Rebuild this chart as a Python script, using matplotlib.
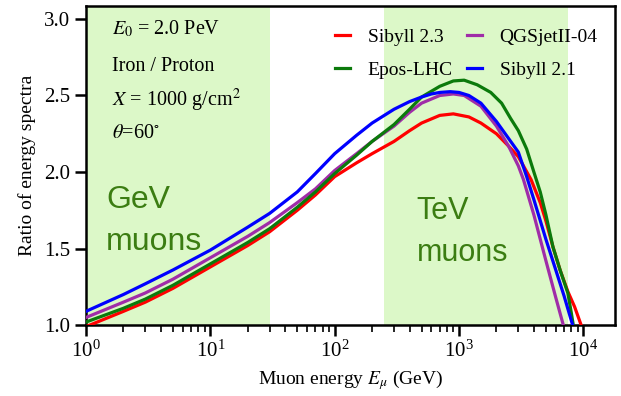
import numpy as np
import matplotlib.pyplot as plt

plt.rcParams['font.family'] = 'Liberation Serif'
plt.rcParams['mathtext.fontset'] = 'stix'

# Sibyll 2.3
e_s23 = [1, 2, 3, 5, 10, 20, 30, 50, 70, 100, 150, 200, 300, 400, 500, 700, 900, 1200, 1500, 2000, 2500,
         3000, 3800, 4500, 5000, 5700, 6500, 7500, 8500, 9600]
r_s23 = [0.99, 1.09, 1.15, 1.24, 1.38, 1.52, 1.61, 1.75, 1.85, 1.97, 2.06, 2.12, 2.20, 2.27, 2.32, 2.37, 2.38, 2.36, 2.32, 2.25, 2.17,
         2.10, 1.95, 1.80, 1.68, 1.51, 1.36, 1.22, 1.12, 1.00]
# Epos-LHC
e_epos = [1, 2, 3, 5, 10, 20, 30, 50, 70, 100, 150, 200, 300, 400, 500, 700, 900, 1100, 1400, 1800, 2200,
          2600, 3000, 3500, 4000, 4500, 5000, 5700, 6500, 7500, 8000, 8300]
r_epos = [1.02, 1.11, 1.17, 1.26, 1.40, 1.54, 1.63, 1.77, 1.87, 1.99, 2.11, 2.20, 2.31, 2.41, 2.49, 2.56, 2.595, 2.60, 2.57, 2.52, 2.45,
          2.35, 2.27, 2.15, 2.00, 1.87, 1.72, 1.51, 1.36, 1.21, 1.08, 1.00]
# QGSjetII-04
e_qgs = [1, 2, 3, 5, 10, 20, 30, 50, 70, 100, 150, 200, 300, 400, 500, 700, 900, 1100, 1500, 2000, 2500,
         3000, 3300, 4000, 5000, 6000, 6900]
r_qgs = [1.05, 1.15, 1.21, 1.30, 1.44, 1.58, 1.67, 1.80, 1.89, 2.01, 2.12, 2.20, 2.30, 2.39, 2.45, 2.50, 2.51, 2.50, 2.43, 2.30, 2.17,
         2.04, 1.95, 1.72, 1.42, 1.18, 1.00]
# Sibyll 2.1
e_s21 = [1, 2, 3, 5, 10, 20, 30, 50, 70, 100, 150, 200, 300, 400, 500, 600, 700, 850, 1000, 1200, 1500, 2000,
         2500, 3000, 3500, 4000, 5000, 6000, 7000, 8200]
r_s21 = [1.09, 1.20, 1.27, 1.36, 1.49, 1.64, 1.73, 1.87, 1.99, 2.12, 2.24, 2.32, 2.41, 2.46, 2.49, 2.51, 2.52, 2.525, 2.52, 2.50, 2.45, 2.33,
         2.22, 2.13, 1.97, 1.82, 1.56, 1.36, 1.19, 1.00]

gev_band = (1, 30)
tev_band = (250, 7500)

fig = plt.figure(figsize=(6.21, 3.96), dpi=100)
ax = fig.add_axes([0.1385, 0.179, 0.852, 0.806])

shade = '#dcf8c8'
ax.axvspan(*gev_band, color=shade, lw=0, zorder=0)
ax.axvspan(*tev_band, color=shade, lw=0, zorder=0)

lw = 2.3
ax.plot(e_s23, r_s23, color='#ff0000', lw=lw, label='Sibyll 2.3', zorder=3)
ax.plot(e_epos, r_epos, color='#0b7a0b', lw=lw, label='Epos-LHC', zorder=4)
ax.plot(e_qgs, r_qgs, color='#a02ca8', lw=lw, label='QGSjetII-04', zorder=3)
ax.plot(e_s21, r_s21, color='#0000ff', lw=lw, label='Sibyll 2.1', zorder=5)

ax.set_xscale('log')
ax.set_xlim(1, 1.8e4)
ax.set_ylim(1.0, 3.085)
ax.set_yticks([1.0, 1.5, 2.0, 2.5, 3.0])
ax.set_yticklabels(['1.0', '1.5', '2.0', '2.5', '3.0'])

ax.tick_params(which='major', direction='out', length=8, width=1.8, labelsize=15)
ax.tick_params(which='minor', direction='out', length=5, width=1.2)
for s in ax.spines.values():
    s.set_linewidth(1.8)

ax.set_xlabel(r'Muon energy $E_\mu$ (GeV)', fontsize=14, labelpad=4)
ax.set_ylabel('Ratio of energy spectra', fontsize=14, labelpad=6)

leg = ax.legend(ncol=2, loc='upper right', frameon=False, fontsize=14,
                handlelength=0.8, columnspacing=0.7, handletextpad=0.9,
                bbox_to_anchor=(1.0, 0.985), labelspacing=0.8)

ax.text(0.049, 0.927, r'$E_0$ = 2.0 PeV', transform=ax.transAxes, fontsize=14.5, va='center')
ax.text(0.049, 0.811, 'Iron / Proton', transform=ax.transAxes, fontsize=14.5, va='center')
ax.text(0.049, 0.705, r'$X$ = 1000 g/cm$^2$', transform=ax.transAxes, fontsize=14.5, va='center')
ax.text(0.049, 0.601, r'$\theta$=60$^{\circ}$', transform=ax.transAxes, fontsize=14.5, va='center')

txt_green = '#3b7d12'
ax.text(0.038, 0.44, 'GeV\nmuons', transform=ax.transAxes, fontsize=23, color=txt_green,
        family='Liberation Sans', va='top', linespacing=1.55)
ax.text(0.625, 0.405, 'TeV\nmuons', transform=ax.transAxes, fontsize=22, color=txt_green,
        family='Liberation Sans', va='top', linespacing=1.55)

fig.savefig('out.png', dpi=100)
